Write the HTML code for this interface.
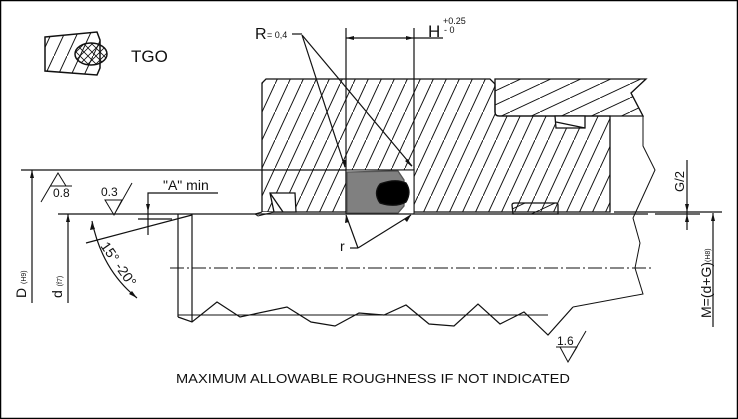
<!DOCTYPE html>
<html><head><meta charset="utf-8"><style>
html,body{margin:0;padding:0;background:#fff}
svg{display:block}
text{font-family:"Liberation Sans",Arial,sans-serif;fill:#111}
</style></head><body>
<svg width="738" height="419" viewBox="0 0 738 419" xmlns="http://www.w3.org/2000/svg">
<defs>
<pattern id="h1" patternUnits="userSpaceOnUse" width="13" height="28" patternTransform="translate(262,0)">
<line x1="0" y1="28" x2="13" y2="0" stroke="#111" stroke-width="1"/>
</pattern>
<pattern id="h2" patternUnits="userSpaceOnUse" width="30" height="14">
<line x1="0" y1="14" x2="30" y2="0" stroke="#111" stroke-width="1"/>
</pattern>
<pattern id="h3" patternUnits="userSpaceOnUse" width="8" height="8">
<line x1="0" y1="8" x2="8" y2="0" stroke="#111" stroke-width="0.8"/>
<line x1="0" y1="0" x2="8" y2="8" stroke="#111" stroke-width="0.8"/>
</pattern>
</defs>
<rect x="0.5" y="0.5" width="737" height="418" fill="#fff" stroke="#000" stroke-width="1.5"/>

<!-- TGO icon -->
<g stroke="#111" stroke-width="1.5" fill="none">
<polygon points="45,37 97,32 100,40 100,68 97,75 45,71" fill="url(#h1)"/>
<ellipse cx="91" cy="54" rx="16" ry="11" fill="url(#h3)"/>
</g>
<text x="131" y="62" font-size="17">TGO</text>

<!-- housing -->
<g stroke="#111" stroke-width="1.3">
<path d="M266,79 L490,79 L495,84 L495,112 Q495,116 499,116 L610,116 L610,212 L414,212 L414,170 L346,170 L346,212 L262,212 L262,83 Z" fill="url(#h1)"/>
<path d="M495,79 L646,79 L631,93 L643,116 L499,116 Q495,116 495,112 Z" fill="url(#h2)"/>
<rect x="346" y="170" width="68" height="44" fill="#fff" stroke-width="1"/>
<path d="M347,172 L398,171 L404,180 L404,206 L398,213 L347,213 Z" fill="#808080" stroke="#555"/>
<path d="M380,184 Q395,178 406,183 Q412,192 406,202 Q395,208 380,203 Q373,193 380,184 Z" fill="#000"/>
<path d="M270,193 L295,193 L296,212 L274,212 Z" fill="#fff"/>
<path d="M270,193 L283,212" fill="none"/>
<path d="M262,212 L255,214 L258,216 L274,212" fill="#fff" stroke-width="1"/>
<path d="M555,116 L585,116 L585,128 L556,128 Z" fill="#fff"/>
<path d="M556,122 L585,128" fill="none"/>
<path d="M512,205 Q512,203 515,203 L556,203 Q558,203 558,205 L558,214 L513,214 Z" fill="url(#h2)"/>
</g>

<!-- break line -->
<polyline points="646,79 631,93 643,116 643,146 655,170 633,218 640,243 635,268 643,294 573,307" fill="none" stroke="#111" stroke-width="1"/>

<g stroke="#111" stroke-width="1.2" fill="none">
<line x1="21" y1="170" x2="346" y2="170"/>
<line x1="58" y1="214" x2="648" y2="214"/>
<line x1="614" y1="212" x2="722" y2="212"/>
<line x1="655" y1="214" x2="700" y2="214"/>
<line x1="178" y1="214" x2="178" y2="317"/>
<line x1="192" y1="214" x2="192" y2="322"/>
<polyline points="178,317 192,322 217,302 240,317 287,307 311,322 335,326 359,313 384,315 406,305 429,324 454,326 478,304 500,324 524,312 548,335 573,307"/>
<line x1="178" y1="315" x2="548" y2="315" stroke-width="1"/>
<line x1="170" y1="268" x2="654" y2="268" stroke-dasharray="14,3,2,3" stroke-width="1"/>
<line x1="86" y1="243" x2="192" y2="215"/>
<polyline points="148,235 148,193 218,193"/>
<line x1="138" y1="219" x2="172" y2="219"/>
<line x1="32" y1="170" x2="32" y2="303"/>
<line x1="68" y1="214" x2="68" y2="303"/>
<path d="M92,221 Q102,270 137,298"/>
<line x1="346" y1="28" x2="346" y2="170"/>
<line x1="414" y1="28" x2="414" y2="170"/>
<line x1="346" y1="38" x2="443" y2="38"/>
<line x1="292" y1="34" x2="302" y2="34"/>
<line x1="302" y1="35" x2="345" y2="167"/>
<line x1="302" y1="35" x2="412" y2="166"/>
<line x1="350" y1="248" x2="358" y2="248"/>
<line x1="358" y1="248" x2="346" y2="215"/>
<line x1="358" y1="248" x2="411" y2="215"/>
<line x1="687" y1="160" x2="687" y2="230"/>
<line x1="713" y1="213" x2="713" y2="327"/>
<path d="M41,202 L58,173 L66,186 M50,186 L72,186" stroke-width="1"/>
<path d="M105,200 L122,200 L114,215 Z M114,215 L132,183" stroke-width="1"/>
<path d="M556,347 L577,347 L568,362 L560,347 M568,362 L586,331" stroke-width="1"/>
</g>
<g fill="#111">
<polygon points="32,170 30,178 34,178"/>
<polygon points="68,214 66,222 70,222"/>
<polygon points="148,212 146,204 150,204"/>
<polygon points="92,222 90,230 95,229"/>
<polygon points="137,298 129,294 132,291"/>
<polygon points="414,38 406,36 406,40"/>
<polygon points="346,38 354,36 354,40"/>
<polygon points="687,212 685,204 689,204"/>
<polygon points="687,214 685,222 689,222"/>
<polygon points="713,213 711,221 715,221"/>
<polygon points="345,168 342,160 346,160"/>
<polygon points="412,167 405,161 408,159"/>
<polygon points="346,215 345,223 349,222"/>
<polygon points="411,215 404,219 407,222"/>
</g>

<text x="255" y="39" font-size="16">R</text><text x="267" y="38" font-size="9">= 0,4</text>
<text x="428" y="37" font-size="17">H</text>
<text x="443" y="24" font-size="9">+0.25</text>
<text x="444" y="33" font-size="9">- 0</text>
<text x="53" y="197" font-size="12">0.8</text>
<text x="101" y="196" font-size="12">0.3</text>
<text x="163" y="190" font-size="14">"A" min</text>
<text x="340" y="251" font-size="14">r</text>
<text x="557" y="345" font-size="12">1.6</text>
<text x="0" y="0" font-size="13" transform="translate(684,192) rotate(-90)">G/2</text>
<text x="0" y="0" font-size="14" transform="translate(711,318) rotate(-90)">M=(d+G)<tspan font-size="7" dy="-1">(H8)</tspan></text>
<text x="0" y="0" font-size="14" transform="translate(26,298) rotate(-90)">D <tspan font-size="7">(H9)</tspan></text>
<text x="0" y="0" font-size="14" transform="translate(62,298) rotate(-90)">d <tspan font-size="7">(f7)</tspan></text>
<text x="0" y="0" font-size="14" transform="translate(100,246) rotate(55)">15° -20°</text>
<text x="373" y="383" font-size="13" text-anchor="middle" textLength="394" lengthAdjust="spacingAndGlyphs">MAXIMUM ALLOWABLE ROUGHNESS IF NOT INDICATED</text>
</svg>
</body></html>
